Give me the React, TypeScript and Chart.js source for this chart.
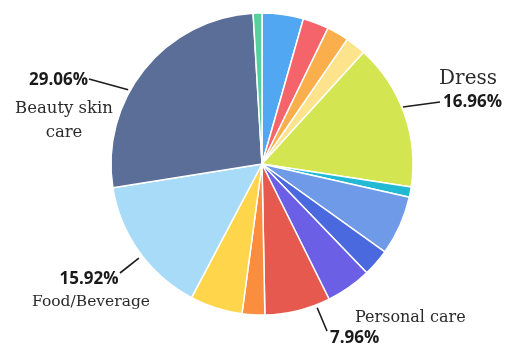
import React, { useEffect, useRef } from "react";
import { Chart, registerables } from "chart.js";

Chart.register(...registerables);

// Slices clockwise from 12 o'clock
const categories = [
  "Item A", "Item B", "Item C", "Item D", "Dress", "Item E", "Item F", "Item G",
  "Item H", "Personal care", "Item I", "Item J", "Food/Beverage", "Beauty skin care", "Item K",
];
// Slice shares as drawn (percent of the circle)
const sliceShares = [4.42, 2.78, 2.36, 2.19, 15.69, 1.08, 6.36, 2.92, 4.86, 7.03, 2.42, 5.61, 14.75, 26.58, 0.94];
// Percent labels printed on the chart
const percentLabels = ["", "", "", "", "16.96%", "", "", "", "", "7.96%", "", "", "15.92%", "29.06%", ""];
const sliceColors = [
  "#52a7f3", "#f5646a", "#fbae4c", "#fde38b", "#d3e651", "#22b9d5", "#6e9ae8", "#4a69df",
  "#6b5fe6", "#e5594f", "#fa8e3e", "#fed54b", "#a8dbf7", "#5b6e97", "#53d29b",
];

type LabelLayout = {
  index: number;
  anchorDeg: number; // clockwise from top
  anchorR: number; // extra radius offset
  lineEnd: [number, number];
  pct: { x: number; y: number; align: CanvasTextAlign };
  name: { lines: string[]; x: number; y: number; align: CanvasTextAlign; size: number; lh: number };
};

const labelLayouts: LabelLayout[] = [
  {
    index: 4, anchorDeg: 68, anchorR: 1, lineEnd: [440, 102],
    pct: { x: 443, y: 102, align: "left" },
    name: { lines: ["Dress"], x: 497, y: 79, align: "right", size: 20, lh: 24 },
  },
  {
    index: 9, anchorDeg: 159, anchorR: 3, lineEnd: [327, 331],
    pct: { x: 330, y: 338, align: "left" },
    name: { lines: ["Personal care"], x: 355, y: 318, align: "left", size: 16, lh: 24 },
  },
  {
    index: 12, anchorDeg: 232.6, anchorR: 4, lineEnd: [120, 273],
    pct: { x: 89, y: 279, align: "center" },
    name: { lines: ["Food/Beverage"], x: 91, y: 302, align: "center", size: 15.5, lh: 24 },
  },
  {
    index: 13, anchorDeg: 299, anchorR: 2, lineEnd: [89, 79],
    pct: { x: 88, y: 80, align: "right" },
    name: { lines: ["Beauty skin", "care"], x: 64, y: 109, align: "center", size: 16.5, lh: 24 },
  },
];

const labelPlugin = {
  id: "pieLabels",
  afterDatasetsDraw(chart: any) {
    const meta = chart.getDatasetMeta(0);
    const ctx: CanvasRenderingContext2D = chart.ctx;
    ctx.save();
    for (const L of labelLayouts) {
      const arc = meta.data[L.index];
      if (!arc) continue;
      const { x, y, outerRadius } = arc.getProps(["x", "y", "outerRadius"], true);
      const a = ((L.anchorDeg - 90) * Math.PI) / 180;
      const r = outerRadius + L.anchorR;
      const sx = x + r * Math.cos(a);
      const sy = y + r * Math.sin(a);
      ctx.strokeStyle = "#1c1c1c";
      ctx.lineWidth = 1.6;
      ctx.beginPath();
      ctx.moveTo(sx, sy);
      ctx.lineTo(L.lineEnd[0], L.lineEnd[1]);
      ctx.stroke();

      ctx.textBaseline = "middle";
      ctx.fillStyle = "#1a1a1a";
      ctx.font = 'bold 17px "Open Sans"';
      ctx.textAlign = L.pct.align;
      ctx.fillText(percentLabels[L.index], L.pct.x, L.pct.y);

      ctx.fillStyle = "#2b2b2b";
      ctx.font = `${L.name.size}px "DejaVu Serif"`;
      ctx.textAlign = L.name.align;
      L.name.lines.forEach((ln, i) => ctx.fillText(ln, L.name.x, L.name.y + i * L.name.lh));
    }
    ctx.restore();
  },
};

export default function App() {
  const ref = useRef<HTMLCanvasElement | null>(null);
  useEffect(() => {
    if (!ref.current) return;
    const chart = new Chart(ref.current, {
      type: "pie",
      data: {
        labels: categories,
        datasets: [
          {
            data: sliceShares,
            backgroundColor: sliceColors,
            borderColor: "#ffffff",
            borderWidth: 1.5,
          },
        ],
      },
      options: {
        responsive: false,
        animation: false,
        radius: 151,
        layout: { padding: { top: 13, bottom: 30, left: 111, right: 94 } },
        plugins: { legend: { display: false }, tooltip: { enabled: false } },
      } as any,
      plugins: [labelPlugin],
    });
    return () => chart.destroy();
  }, []);
  return (
    <div style={{ position: "fixed", left: 0, top: 0, width: 507, height: 345, background: "#fff" }}>
      <canvas ref={ref} width={507} height={345} style={{ width: 507, height: 345 }} />
    </div>
  );
}
